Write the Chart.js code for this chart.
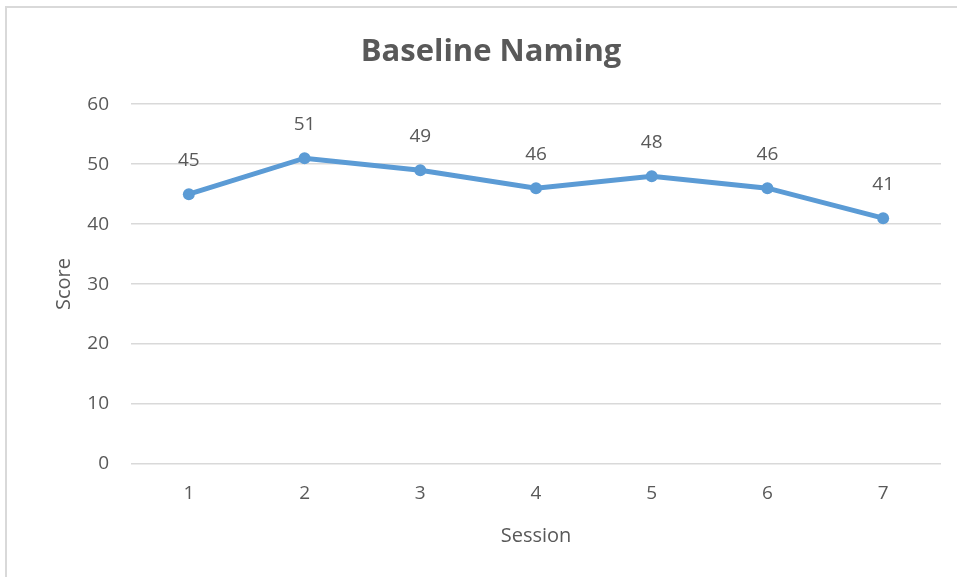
<!DOCTYPE html>
<html>
<head>
<meta charset="utf-8">
<script src="https://cdn.jsdelivr.net/npm/chart.js@4"></script>
<style>
  html, body { margin: 0; padding: 0; background: #ffffff; overflow: hidden; }
  #wrap { position: relative; width: 957px; height: 577px; }
  #frame {
    position: absolute; left: 5px; top: 6px; width: 1000px; height: 700px;
    border: 2px solid #d9d9d9; box-sizing: border-box; pointer-events: none;
  }
  canvas { position: absolute; left: 0; top: 0; }
</style>
</head>
<body>
<div id="wrap">
  <canvas id="chart" width="957" height="577"></canvas>
  <div id="frame"></div>
</div>
<script>
// Session numbers and naming scores
const sessions = ['1', '2', '3', '4', '5', '6', '7'];
const scores = [45, 51, 49, 46, 48, 46, 41];
const yTicks = [0, 10, 20, 30, 40, 50, 60];

const FONT = "'Open Sans', 'Liberation Sans', sans-serif";
const TEXT = '#595959';
const LINE = '#5b9bd5';

// Writes each point's value above its marker
const valueLabels = {
  id: 'valueLabels',
  afterDatasetsDraw(chart) {
    const ctx = chart.ctx;
    const meta = chart.getDatasetMeta(0);
    ctx.save();
    ctx.font = '19px ' + FONT;
    ctx.fillStyle = TEXT;
    ctx.textAlign = 'center';
    ctx.textBaseline = 'middle';
    meta.data.forEach((pt, i) => {
      ctx.fillText(String(chart.data.datasets[0].data[i]), pt.x, pt.y - 34);
    });
    ctx.restore();
  }
};

new Chart(document.getElementById('chart'), {
  type: 'line',
  data: {
    labels: sessions,
    datasets: [{
      label: 'Score',
      data: scores,
      borderColor: LINE,
      backgroundColor: LINE,
      borderWidth: 5,
      pointRadius: 6,
      pointBorderWidth: 0,
      pointBackgroundColor: LINE,
      tension: 0,
      fill: false
    }]
  },
  options: {
    responsive: false,
    animation: false,
    events: [],
    layout: { padding: { left: 41, right: 16, top: 0, bottom: 0 } },
    plugins: {
      legend: { display: false },
      tooltip: { enabled: false },
      title: {
        display: true,
        text: 'Baseline Naming',
        color: TEXT,
        font: { family: FONT, size: 31, weight: 'bold' },
        padding: { top: 34, bottom: 33 }
      }
    },
    scales: {
      x: {
        offset: true,
        grid: { display: false, drawTicks: false },
        border: { display: false },
        ticks: { color: TEXT, font: { family: FONT, size: 19 }, padding: 18, maxRotation: 0 },
        title: {
          display: true, text: 'Session', color: TEXT,
          font: { family: FONT, size: 20 }, padding: { top: 0, bottom: 29 }
        },
        afterFit(s) { s.height = 113; }
      },
      y: {
        min: 0, max: 60,
        afterBuildTicks(s) { s.ticks = yTicks.map(v => ({ value: v })); },
        grid: { color: '#d9d9d9', lineWidth: 1.5, drawTicks: false },
        border: { display: false },
        ticks: { color: TEXT, font: { family: FONT, size: 19 }, padding: 22 },
        title: {
          display: true, text: 'Score', color: TEXT,
          font: { family: FONT, size: 20 }, padding: { top: 11, bottom: 0 }
        },
        afterFit(s) { s.width = 90; }
      }
    }
  },
  plugins: [valueLabels]
});
</script>
</body>
</html>
